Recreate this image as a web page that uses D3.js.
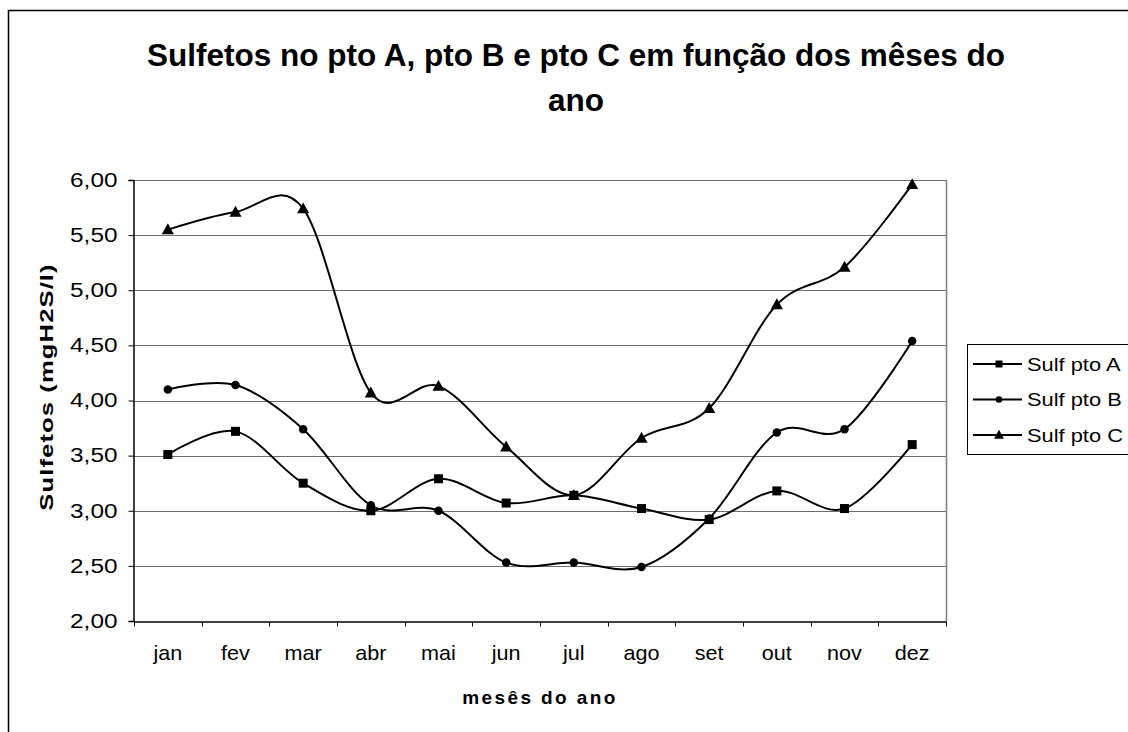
<!DOCTYPE html>
<html>
<head>
<meta charset="utf-8">
<script src="https://cdn.jsdelivr.net/npm/d3@7"></script>
<style>
  html, body { margin: 0; padding: 0; background: #fff; }
  svg { display: block; }
  text { font-family: "Liberation Sans", Arial, sans-serif; fill: #000; }
</style>
</head>
<body>
<svg id="chart" width="1128" height="732"></svg>
<script>
// Monthly sulfide readings (mgH2S/l) at three sampling points
const months = ["jan", "fev", "mar", "abr", "mai", "jun", "jul", "ago", "set", "out", "nov", "dez"];
const sulfA = [3.51, 3.72, 3.25, 3.00, 3.29, 3.07, 3.14, 3.02, 2.92, 3.18, 3.02, 3.60];
const sulfB = [4.10, 4.14, 3.74, 3.05, 3.00, 2.53, 2.53, 2.49, 2.93, 3.71, 3.74, 4.54];
const sulfC = [5.55, 5.71, 5.74, 4.07, 4.13, 3.58, 3.14, 3.66, 3.93, 4.87, 5.21, 5.96];
const seriesNames = ["Sulf pto A", "Sulf pto B", "Sulf pto C"];
const markerShapes = ["square", "circle", "triangle"];
const yTicks = [2.0, 2.5, 3.0, 3.5, 4.0, 4.5, 5.0, 5.5, 6.0];

const svg = d3.select("#chart");

// chart frame (runs off the right and bottom edges)
svg.append("rect")
  .attr("x", 8.5).attr("y", 10.5)
  .attr("width", 1300).attr("height", 900)
  .attr("fill", "none").attr("stroke", "#000").attr("stroke-width", 1.5);

const plot = { left: 134, right: 946, top: 180, bottom: 621 };

const x = d3.scaleBand().domain(months).range([plot.left, plot.right]);
const y = d3.scaleLinear().domain([2, 6]).range([plot.bottom, plot.top]);

// title
const title = svg.append("text")
  .attr("text-anchor", "middle")
  .attr("font-weight", "bold")
  .attr("font-size", 31.5);
title.append("tspan").attr("x", 576).attr("y", 66).text("Sulfetos no pto A, pto B e pto C em função dos mêses do");
title.append("tspan").attr("x", 576).attr("y", 111).text("ano");

// horizontal gridlines
svg.append("g").selectAll("line")
  .data(yTicks.filter(v => v > 2))
  .join("line")
  .attr("x1", plot.left).attr("x2", plot.right)
  .attr("y1", d => Math.round(y(d)) + 0.5).attr("y2", d => Math.round(y(d)) + 0.5)
  .attr("stroke", "#6e6e6e").attr("stroke-width", 1.1);

// right edge of plot area
svg.append("line")
  .attr("x1", plot.right + 0.5).attr("x2", plot.right + 0.5)
  .attr("y1", plot.top).attr("y2", plot.bottom)
  .attr("stroke", "#808080").attr("stroke-width", 1.5);

// y axis
const yAxis = d3.axisLeft(y)
  .tickValues(yTicks)
  .tickSize(5)
  .tickPadding(0)
  .tickFormat(d => d3.format(".2f")(d).replace(".", ","));
const gy = svg.append("g")
  .attr("transform", `translate(${plot.left - 0.5},0)`)
  .call(yAxis);
gy.select(".domain").attr("stroke", "#000").attr("stroke-width", 1.5);
gy.selectAll(".tick line").attr("stroke", "#000");
gy.selectAll(".tick text")
  .attr("x", null)
  .attr("font-size", 19.5)
  .attr("font-family", "'Liberation Sans', Arial, sans-serif")
  .attr("fill", "#000")
  .attr("transform", "translate(-16,0) scale(1.25,1)");

// x axis with ticks on band boundaries
const xAxis = d3.axisBottom(x).tickSize(0).tickPadding(24);
const gx = svg.append("g")
  .attr("transform", `translate(0,${plot.bottom + 0.5})`)
  .call(xAxis);
gx.select(".domain").attr("stroke", "#000").attr("stroke-width", 1.5);
gx.selectAll(".tick text")
  .attr("font-size", 20)
  .attr("font-family", "'Liberation Sans', Arial, sans-serif")
  .attr("fill", "#000")
  .attr("transform", "scale(1.08,1)");
const bounds = months.map(m => x(m)).concat([x.range()[1]]);
gx.append("g").selectAll("line")
  .data(bounds)
  .join("line")
  .attr("x1", d => Math.round(d) + 0.5).attr("x2", d => Math.round(d) + 0.5)
  .attr("y1", 0).attr("y2", 5)
  .attr("stroke", "#000");

// axis titles
svg.append("text")
  .attr("x", (plot.left + plot.right) / 2).attr("y", 704)
  .attr("text-anchor", "middle")
  .attr("font-weight", "bold")
  .attr("font-size", 19)
  .attr("letter-spacing", 2.4)
  .text("mesês do ano");

svg.append("text")
  .attr("transform", "translate(53,387) rotate(-90) scale(1.35,1)")
  .attr("text-anchor", "middle")
  .attr("font-weight", "bold")
  .attr("font-size", 19)
  .attr("letter-spacing", 0.8)
  .text("Sulfetos (mgH2S/l)");

// series
const series = [sulfA, sulfB, sulfC];
const cx = i => x(months[i]) + x.bandwidth() / 2;
const line = d3.line()
  .x((d, i) => cx(i))
  .y(d => y(d))
  .curve(d3.curveCardinal.tension(0));

function drawMarker(g, shape, px, py, s) {
  if (shape === "square") {
    g.append("rect").attr("x", px - s / 2).attr("y", py - s / 2)
      .attr("width", s).attr("height", s).attr("fill", "#000");
  } else if (shape === "circle") {
    g.append("circle").attr("cx", px).attr("cy", py).attr("r", s / 2).attr("fill", "#000");
  } else {
    const h = s * 0.95;
    g.append("path")
      .attr("d", `M${px},${py - h * 0.6}L${px + s * 0.55},${py + h * 0.45}L${px - s * 0.55},${py + h * 0.45}Z`)
      .attr("fill", "#000");
  }
}

const sizes = { square: 9, circle: 8.5, triangle: 11 };
series.forEach((vals, k) => {
  const g = svg.append("g");
  g.append("path")
    .attr("d", line(vals))
    .attr("fill", "none")
    .attr("stroke", "#000")
    .attr("stroke-width", 2);
  vals.forEach((v, i) => drawMarker(g, markerShapes[k], cx(i), y(v), sizes[markerShapes[k]]));
});

// legend
const lg = svg.append("g");
lg.append("rect")
  .attr("x", 967.5).attr("y", 344.5)
  .attr("width", 200).attr("height", 110)
  .attr("fill", "#fff").attr("stroke", "#000").attr("stroke-width", 1);
seriesNames.forEach((name, k) => {
  const ly = 364 + k * 35.5;
  lg.append("line")
    .attr("x1", 973).attr("x2", 1022)
    .attr("y1", ly).attr("y2", ly)
    .attr("stroke", "#000").attr("stroke-width", 2);
  drawMarker(lg, markerShapes[k], 999, ly, sizes[markerShapes[k]] - 2);
  lg.append("text")
    .attr("transform", `translate(1027,${ly}) scale(1.15,1)`)
    .attr("dy", "0.35em")
    .attr("font-size", 19)
    .text(name);
});
</script>
</body>
</html>
